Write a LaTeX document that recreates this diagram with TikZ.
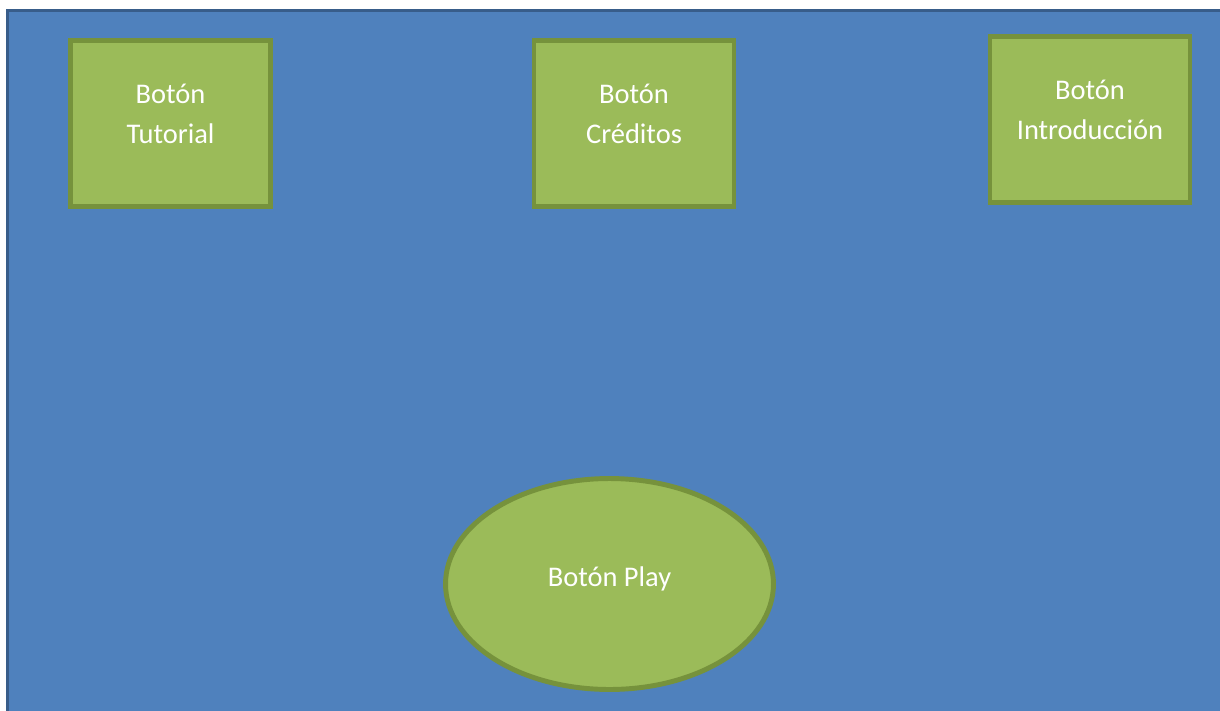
\documentclass[tikz,border=0pt]{standalone}
\usepackage{fontspec}
\setmainfont{Carlito}
\definecolor{fondo}{RGB}{79,129,189}
\definecolor{fondoborde}{RGB}{56,93,138}
\definecolor{verde}{RGB}{155,187,89}
\definecolor{verdeborde}{RGB}{118,146,60}
\usetikzlibrary{shapes.geometric}

\begin{document}
\begin{tikzpicture}[x=0.02cm, y=-0.02cm,
    boton/.style={draw=verdeborde, fill=verde, line width=2.8pt, inner sep=0pt,
      text=white, font=\fontsize{16.2}{22.7}\selectfont},
    caja/.style={boton, rectangle, minimum width=4cm, minimum height=3.32cm,
      align=center, text height=22.2pt, text depth=0pt},
    ovalo/.style={boton, ellipse, minimum width=6.56cm, minimum height=4.22cm,
      text height=10.3pt, text depth=6.9pt}]
  \useasboundingbox (0,0) rectangle (1220,710);
  \clip (0,0) rectangle (1220,710);
  % fondo de la pantalla
  \draw[fondoborde, fill=fondo, line width=1.8pt] (7.5,10.5) rectangle (1250,740);
  % botones
  \node[caja] (tutorial) at (170.5,123.5) {Botón\\Tutorial};
  \node[caja] (creditos) at (634,123.5) {Botón\\Créditos};
  \node[caja] (intro) at (1090,119.5) {Botón\\Introducción};
  \node[ovalo] (play) at (609.5,584) {Botón Play};
\end{tikzpicture}
\end{document}
